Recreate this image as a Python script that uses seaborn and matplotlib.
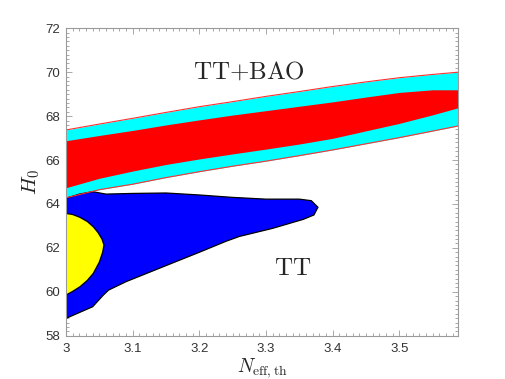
import numpy as np
import pandas as pd
import matplotlib
matplotlib.use('Agg')
import matplotlib.pyplot as plt
import seaborn as sns
from matplotlib.ticker import MultipleLocator

# TT+BAO bands (upper/lower edges of 1 and 2 sigma regions)
neff_bao = [3.0, 3.05, 3.1, 3.15, 3.2, 3.25, 3.3, 3.35, 3.4, 3.45, 3.5, 3.55, 3.588]
cyan_top = [67.37, 67.64, 67.90, 68.17, 68.43, 68.66, 68.90, 69.12, 69.35, 69.56, 69.75, 69.90, 70.00]
red_top = [66.88, 67.12, 67.35, 67.60, 67.83, 68.05, 68.25, 68.45, 68.65, 68.87, 69.08, 69.20, 69.20]
red_bot = [64.74, 65.17, 65.50, 65.80, 66.05, 66.28, 66.50, 66.73, 66.99, 67.33, 67.67, 68.06, 68.38]
cyan_bot = [64.28, 64.65, 64.90, 65.20, 65.47, 65.72, 65.95, 66.20, 66.46, 66.74, 67.02, 67.32, 67.55]

# TT alone: 2 sigma contour (blue) and 1 sigma contour (yellow)
tt2_x = [3.0, 3.02, 3.04, 3.06, 3.1, 3.15, 3.2, 3.25, 3.3, 3.35, 3.368, 3.378,
         3.372, 3.356, 3.31, 3.26, 3.24, 3.2, 3.14, 3.09, 3.064, 3.056, 3.04, 3.0]
tt2_y = [64.26, 64.45, 64.56, 64.45, 64.48, 64.50, 64.41, 64.30, 64.22, 64.22, 64.15, 63.85,
         63.50, 63.30, 62.89, 62.52, 62.30, 61.80, 61.07, 60.46, 60.08, 59.85, 59.32, 58.79]
tt1_x = [3.0, 3.01, 3.021, 3.032, 3.041, 3.048, 3.054, 3.057, 3.055, 3.05, 3.041, 3.032, 3.021, 3.01, 3.0]
tt1_y = [63.57, 63.52, 63.39, 63.20, 62.96, 62.70, 62.40, 62.13, 61.80, 61.35, 60.84, 60.52, 60.23, 60.02, 59.85]

sns.set_theme(style='ticks')
plt.rcParams['mathtext.fontset'] = 'cm'
plt.rcParams['font.family'] = ['Liberation Sans', 'DejaVu Sans']

fig = plt.figure(figsize=(5.06, 3.79), dpi=100)
ax = fig.add_axes([0.1304, 0.1142, 0.7746, 0.8111])

bao = pd.DataFrame({'neff': neff_bao, 'ct': cyan_top, 'rt': red_top,
                    'rb': red_bot, 'cb': cyan_bot})

ax.fill_between(bao['neff'], bao['cb'], bao['ct'], color='#00ffff', lw=0)
ax.fill_between(bao['neff'], bao['rb'], bao['rt'], color='#ff0000', lw=0)
sns.lineplot(data=bao, x='neff', y='ct', color='#ff3030', lw=0.8, ax=ax)
sns.lineplot(data=bao, x='neff', y='cb', color='#ff3030', lw=0.8, ax=ax)

ax.fill(tt2_x, tt2_y, facecolor='#0000ff', edgecolor='black', lw=0.9)
ax.fill(tt1_x, tt1_y, facecolor='#ffff00', edgecolor='black', lw=0.9)

ax.text(3.274, 70.05, r'$\mathrm{TT{+}BAO}$', fontsize=18, ha='center', va='center')
ax.text(3.34, 61.1, r'$\mathrm{TT}$', fontsize=18, ha='center', va='center')

ax.set_xlim(3.0, 3.588)
ax.set_ylim(58, 72)
ax.xaxis.set_major_locator(MultipleLocator(0.1))
ax.xaxis.set_minor_locator(MultipleLocator(0.01))
ax.yaxis.set_major_locator(MultipleLocator(2))
ax.yaxis.set_minor_locator(MultipleLocator(0.2))
ax.set_xticks([3.0, 3.1, 3.2, 3.3, 3.4, 3.5])
ax.set_xticklabels(['3', '3.1', '3.2', '3.3', '3.4', '3.5'])

ax.tick_params(which='both', direction='in', top=True, right=True,
               color='#9a9a9a', labelcolor='#333333', labelsize=9.5, width=0.6)
ax.tick_params(which='major', length=4)
ax.tick_params(which='minor', length=2)
ax.tick_params(axis='x', which='major', pad=5)
ax.tick_params(axis='y', which='major', pad=4.5)
for s in ax.spines.values():
    s.set_color('#9a9a9a')
    s.set_linewidth(0.8)

ax.set_xlabel(r'$N_{\rm eff,th}$', fontsize=14)
ax.set_ylabel(r'$H_0$', fontsize=15)
ax.xaxis.set_label_coords(0.5, -0.068)
ax.yaxis.set_label_coords(-0.062, 0.5)

fig.savefig('out.png', dpi=100)
